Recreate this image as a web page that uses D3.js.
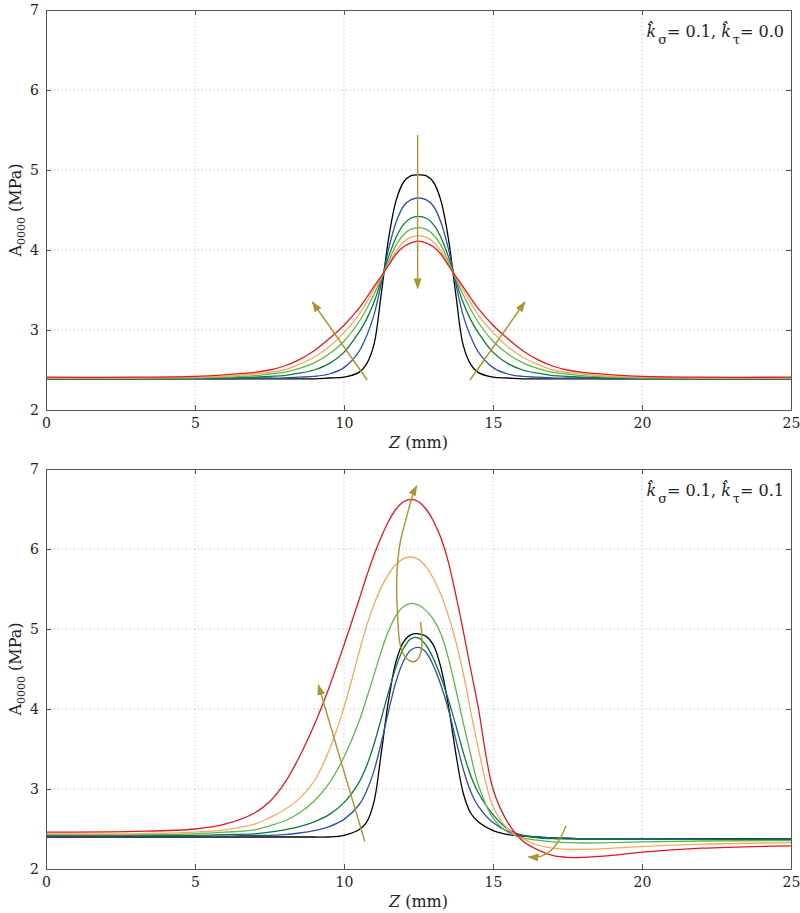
<!DOCTYPE html>
<html>
<head>
<meta charset="utf-8">
<script src="https://cdn.jsdelivr.net/npm/d3@7"></script>
<style>
body { margin: 0; background: #fff; }
</style>
</head>
<body>
<div id="vis"></div>
<script>
const FRAME_WIDTH = 800;
const FRAME_HEIGHT = 913;
const LEFT = 46;
const RIGHT = 791;
const PANEL_H = 400;
const PANEL_TOPS = [10, 469];
const SERIF = "DejaVu Serif";

const X_TICKS = [0, 5, 10, 15, 20, 25];
const Y_TICKS = [2, 3, 4, 5, 6, 7];
const COLORS = ["#000000", "#2d4fa6", "#0b7a3b", "#5cb84c", "#f8a75e", "#e8161e"];
const ARROW_COLOR = "#a8962f";

// z positions (mm) shared by every curve
const Z_GRID = [0, 3, 5, 6, 7, 7.5, 8, 8.5, 9, 9.5, 10, 10.5, 10.75, 11, 11.25, 11.5, 11.75, 12, 12.25, 12.5,
    12.75, 13, 13.25, 13.5, 13.75, 14, 14.25, 14.5, 15, 15.5, 16, 16.5, 17, 17.5, 18, 19, 20, 22, 25];

// top panel: k_sigma = 0.1, k_tau = 0.0
const TOP_BLACK = [2.39,2.39,2.39,2.39,2.39,2.39,2.39,2.39,2.39,2.40,2.41,2.47,2.57,2.81,3.45,4.15,4.62,4.85,4.93,4.94,
    4.93,4.85,4.62,4.15,3.45,2.81,2.57,2.47,2.41,2.40,2.39,2.39,2.39,2.39,2.39,2.39,2.39,2.39,2.39];
const TOP_BLUE = [2.39,2.39,2.39,2.39,2.40,2.40,2.40,2.41,2.42,2.45,2.53,2.73,2.92,3.18,3.58,4.02,4.35,4.55,4.63,4.65,
    4.63,4.55,4.35,4.02,3.58,3.18,2.92,2.73,2.53,2.45,2.42,2.41,2.40,2.40,2.40,2.39,2.39,2.39,2.39];
const TOP_DGREEN = [2.39,2.39,2.40,2.40,2.41,2.42,2.43,2.46,2.50,2.58,2.72,2.97,3.13,3.34,3.62,3.92,4.16,4.32,4.40,4.42,
    4.40,4.32,4.16,3.92,3.62,3.34,3.13,2.97,2.72,2.58,2.50,2.46,2.43,2.42,2.41,2.40,2.40,2.39,2.39];
const TOP_LGREEN = [2.40,2.40,2.40,2.41,2.43,2.45,2.47,2.52,2.59,2.70,2.86,3.10,3.26,3.44,3.64,3.86,4.06,4.19,4.26,4.28,
    4.26,4.19,4.06,3.86,3.64,3.44,3.26,3.10,2.86,2.70,2.59,2.52,2.47,2.45,2.43,2.41,2.40,2.40,2.40];
const TOP_ORANGE = [2.40,2.40,2.41,2.42,2.45,2.47,2.50,2.57,2.66,2.79,2.97,3.19,3.34,3.50,3.66,3.83,3.99,4.10,4.16,4.18,
    4.16,4.10,3.99,3.83,3.66,3.50,3.34,3.19,2.97,2.79,2.66,2.57,2.50,2.47,2.45,2.42,2.41,2.40,2.40];
const TOP_RED = [2.41,2.41,2.42,2.44,2.47,2.50,2.55,2.63,2.74,2.89,3.06,3.27,3.40,3.54,3.67,3.81,3.95,4.04,4.09,4.11,
    4.09,4.04,3.95,3.81,3.67,3.54,3.40,3.27,3.06,2.89,2.74,2.63,2.55,2.50,2.47,2.44,2.42,2.41,2.41];

// bottom panel: k_sigma = 0.1, k_tau = 0.1
const BOT_BLACK = [2.40,2.40,2.40,2.40,2.40,2.40,2.40,2.40,2.40,2.40,2.42,2.49,2.58,2.83,3.45,4.12,4.60,4.84,4.93,4.94,
    4.91,4.80,4.52,4.05,3.45,2.95,2.70,2.59,2.48,2.43,2.41,2.40,2.39,2.385,2.38,2.38,2.38,2.38,2.38];
const BOT_BLUE = [2.41,2.41,2.41,2.41,2.42,2.42,2.43,2.45,2.48,2.53,2.62,2.80,2.97,3.22,3.58,3.98,4.35,4.60,4.74,4.77,
    4.71,4.54,4.30,4.00,3.62,3.25,2.97,2.79,2.58,2.47,2.42,2.40,2.39,2.385,2.38,2.38,2.38,2.375,2.375];
const BOT_DGREEN = [2.42,2.42,2.42,2.43,2.44,2.46,2.49,2.53,2.59,2.68,2.83,3.08,3.28,3.55,3.88,4.22,4.53,4.76,4.88,4.89,
    4.80,4.63,4.40,4.12,3.80,3.46,3.17,2.96,2.68,2.50,2.42,2.39,2.38,2.375,2.37,2.37,2.37,2.37,2.37];
const BOT_LGREEN = [2.43,2.43,2.44,2.46,2.49,2.54,2.60,2.70,2.85,3.07,3.40,3.84,4.12,4.42,4.72,4.98,5.17,5.28,5.32,5.30,
    5.23,5.12,4.94,4.64,4.25,3.83,3.43,3.06,2.64,2.46,2.39,2.36,2.34,2.33,2.325,2.33,2.34,2.35,2.355];
const BOT_ORANGE = [2.44,2.44,2.46,2.49,2.56,2.64,2.74,2.88,3.10,3.48,4.02,4.70,5.03,5.30,5.52,5.69,5.81,5.88,5.90,5.87,
    5.78,5.63,5.43,5.17,4.85,4.45,3.98,3.52,2.78,2.50,2.38,2.30,2.26,2.245,2.245,2.26,2.28,2.31,2.33];
const BOT_RED = [2.46,2.47,2.50,2.56,2.70,2.84,3.07,3.40,3.80,4.27,4.80,5.36,5.65,5.92,6.15,6.35,6.50,6.59,6.62,6.59,
    6.50,6.35,6.14,5.84,5.43,4.98,4.50,4.03,3.00,2.58,2.35,2.24,2.17,2.145,2.145,2.17,2.21,2.26,2.29];

// trend arrows, in (z, value) coordinates
const TOP_ARROWS = [
    [[12.47, 5.44], [12.47, 3.52]],
    [[10.78, 2.375], [8.94, 3.35]],
    [[14.23, 2.375], [16.07, 3.35]]
];
const BOT_ARROWS = [
    [[10.70, 2.34], [9.14, 4.30]],
    [[12.57, 5.09], [12.61, 4.78], [12.49, 4.63], [12.33, 4.59], [12.10, 4.63], [11.90, 4.78], [11.79, 5.24],
        [11.77, 5.65], [11.88, 6.07], [12.10, 6.40], [12.33, 6.70], [12.44, 6.79]],
    [[17.45, 2.54], [17.25, 2.38], [16.97, 2.24], [16.63, 2.16], [16.19, 2.15]]
];

const SVG = d3.select("#vis")
    .append("svg")
    .attr("width", FRAME_WIDTH)
    .attr("height", FRAME_HEIGHT)
    .attr("font-family", SERIF);

SVG.append("defs").append("marker")
    .attr("id", "head")
    .attr("markerUnits", "userSpaceOnUse")
    .attr("markerWidth", 11)
    .attr("markerHeight", 8)
    .attr("refX", 10)
    .attr("refY", 4)
    .attr("orient", "auto")
    .append("path")
    .attr("d", "M0,0 L11,4 L0,8 Z")
    .attr("fill", ARROW_COLOR);

function drawPanel(top, series, arrows, tau) {
    const X_SCALE = d3.scaleLinear().domain([0, 25]).range([LEFT, RIGHT]);
    const Y_SCALE = d3.scaleLinear().domain([2, 7]).range([top + PANEL_H, top]);
    const g = SVG.append("g");

    // dotted grid
    g.selectAll(".vg").data(X_TICKS.slice(1, -1)).enter().append("line")
        .attr("x1", d => X_SCALE(d)).attr("x2", d => X_SCALE(d))
        .attr("y1", top).attr("y2", top + PANEL_H)
        .attr("stroke", "#b4b4b4").attr("stroke-dasharray", "1,3");
    g.selectAll(".hg").data(Y_TICKS.slice(1, -1)).enter().append("line")
        .attr("y1", d => Y_SCALE(d)).attr("y2", d => Y_SCALE(d))
        .attr("x1", LEFT).attr("x2", RIGHT)
        .attr("stroke", "#b4b4b4").attr("stroke-dasharray", "1,3");

    // curves
    const line = d3.line()
        .x((d, i) => X_SCALE(Z_GRID[i]))
        .y(d => Y_SCALE(d))
        .curve(d3.curveCatmullRom.alpha(0.5));
    series.forEach((vals, i) => {
        g.append("path")
            .attr("d", line(vals))
            .attr("fill", "none")
            .attr("stroke", COLORS[i])
            .attr("stroke-width", 1.3);
    });

    // arrows
    const arrowLine = d3.line()
        .x(d => X_SCALE(d[0]))
        .y(d => Y_SCALE(d[1]))
        .curve(d3.curveCatmullRom);
    arrows.forEach(a => {
        g.append("path")
            .attr("d", arrowLine(a))
            .attr("fill", "none")
            .attr("stroke", ARROW_COLOR)
            .attr("stroke-width", 1.4)
            .attr("marker-end", "url(#head)");
    });

    // axes with inward ticks on all four sides
    const fmt = d3.format("d");
    const bottom = g.append("g")
        .attr("transform", "translate(0," + (top + PANEL_H) + ")")
        .call(d3.axisBottom(X_SCALE).tickValues(X_TICKS).tickFormat(fmt).tickSize(-5).tickSizeOuter(0).tickPadding(8));
    const left = g.append("g")
        .attr("transform", "translate(" + LEFT + ",0)")
        .call(d3.axisLeft(Y_SCALE).tickValues(Y_TICKS).tickFormat(fmt).tickSize(-5).tickSizeOuter(0).tickPadding(7));
    const topAx = g.append("g")
        .attr("transform", "translate(0," + top + ")")
        .call(d3.axisTop(X_SCALE).tickValues(X_TICKS).tickSize(-5).tickSizeOuter(0).tickFormat(""));
    const rightAx = g.append("g")
        .attr("transform", "translate(" + RIGHT + ",0)")
        .call(d3.axisRight(Y_SCALE).tickValues(Y_TICKS).tickSize(-5).tickSizeOuter(0).tickFormat(""));
    [bottom, left, topAx, rightAx].forEach(ax => {
        ax.attr("font-family", SERIF).attr("font-size", 14);
        ax.selectAll("path, line").attr("stroke", "#555");
        ax.selectAll("text").attr("fill", "#222");
    });

    // axis titles
    const xl = g.append("text")
        .attr("x", (LEFT + RIGHT) / 2)
        .attr("y", top + PANEL_H + 38)
        .attr("text-anchor", "middle")
        .attr("font-family", SERIF)
        .attr("font-size", 16)
        .attr("fill", "#222");
    xl.append("tspan").attr("font-style", "italic").text("Z");
    xl.append("tspan").text(" (mm)");

    const yl = g.append("text")
        .attr("transform", "translate(21," + (top + PANEL_H / 2) + ") rotate(-90)")
        .attr("text-anchor", "middle")
        .attr("font-family", SERIF)
        .attr("font-size", 16)
        .attr("fill", "#222");
    yl.append("tspan").text("A");
    yl.append("tspan").attr("dy", 4).attr("font-size", 11).text("0000");
    yl.append("tspan").attr("dy", -4).text(" (MPa)");

    // parameter label
    const t = g.append("text")
        .attr("x", 784)
        .attr("y", top + 27)
        .attr("text-anchor", "end")
        .attr("font-family", SERIF)
        .attr("font-size", 16)
        .attr("fill", "#222");
    t.append("tspan").attr("font-style", "italic").text("k\u0302");
    t.append("tspan").attr("dy", 7).attr("dx", 2).attr("font-size", 13).text("\u03c3");
    t.append("tspan").attr("dy", -7).text("= 0.1, ");
    t.append("tspan").attr("font-style", "italic").text("k\u0302");
    t.append("tspan").attr("dy", 7).attr("dx", 2).attr("font-size", 13).text("\u03c4");
    t.append("tspan").attr("dy", -7).text("= " + tau);
}

drawPanel(PANEL_TOPS[0], [TOP_BLACK, TOP_BLUE, TOP_DGREEN, TOP_LGREEN, TOP_ORANGE, TOP_RED], TOP_ARROWS, "0.0");
drawPanel(PANEL_TOPS[1], [BOT_BLACK, BOT_BLUE, BOT_DGREEN, BOT_LGREEN, BOT_ORANGE, BOT_RED], BOT_ARROWS, "0.1");
</script>
</body>
</html>
